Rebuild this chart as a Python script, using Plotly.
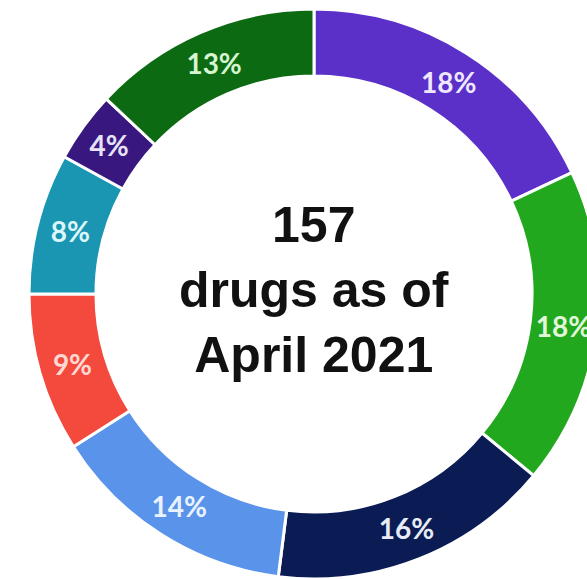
import plotly.graph_objects as go

# Data (clockwise from 12 o'clock)
categories = ["A", "B", "C", "D", "E", "F", "G", "H"]
percent_values = [18, 18, 16, 14, 9, 8, 4, 13]
slice_colors = ["#5B30C8", "#22A81E", "#0B1C55", "#5A94EA",
                "#F4493D", "#1A96B2", "#38187F", "#0C6A12"]
label_colors = ["#EEE8FF", "#E2F7DA", "#E8ECF7", "#EAF2FF",
                "#FFD9D2", "#DDF6FB", "#E8E2F7", "#D6F5D0"]
center_lines = ["157", "drugs as of", "April 2021"]

W, H = 640, 579
cx, cy, R = 314, 294, 285

fig = go.Figure(go.Pie(
    labels=categories,
    values=percent_values,
    sort=False,
    direction="clockwise",
    rotation=0,
    hole=0.765,
    marker=dict(colors=slice_colors, line=dict(color="white", width=3)),
    texttemplate="%{value}%",
    textposition="inside",
    insidetextorientation="horizontal",
    textfont=dict(family="Lato", size=28, color=label_colors, weight="bold"),
    hoverinfo="label+percent",
    showlegend=False,
    domain=dict(x=[0, (2 * cx) / W], y=[0, (2 * R) / H]),
))

fig.add_annotation(
    x=cx / W, y=1 - 290 / H, xref="paper", yref="paper",
    text="<br>".join(center_lines),
    showarrow=False,
    font=dict(family="Liberation Sans, Arial", size=50, color="#111111", weight="bold"),
    align="center",
)

fig.update_layout(
    width=W, height=H,
    margin=dict(l=0, r=0, t=0, b=0),
    paper_bgcolor="white",
    plot_bgcolor="white",
    uniformtext=dict(minsize=20, mode="show"),
)

fig.write_html(
    "out.html",
    post_script="document.body.style.margin='0';document.body.style.overflow='hidden';document.documentElement.style.overflow='hidden';",
)
